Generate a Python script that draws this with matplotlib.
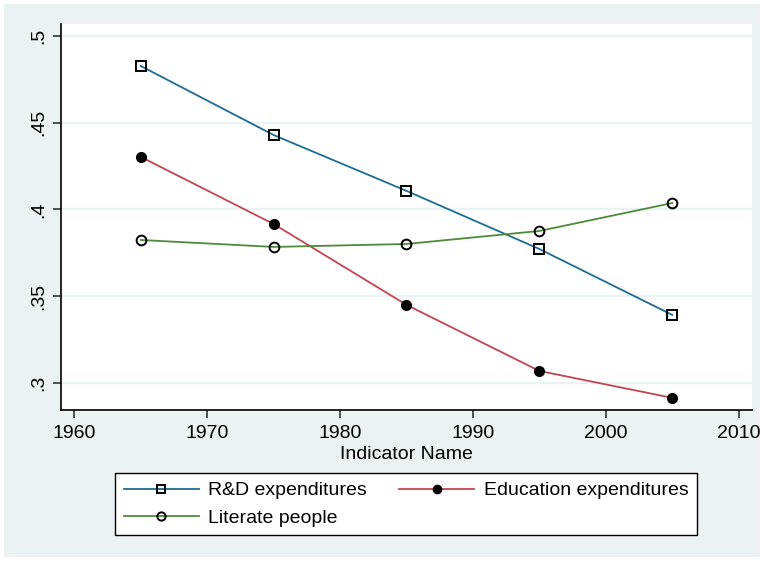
import matplotlib
matplotlib.use("Agg")
import matplotlib.pyplot as plt
from matplotlib.patches import Rectangle
from matplotlib.ticker import FuncFormatter

plt.rcParams['font.family'] = ['Liberation Sans', 'DejaVu Sans']

years = [1965, 1975, 1985, 1995, 2005]
rd_exp = [0.4827, 0.4429, 0.4107, 0.3772, 0.3392]
edu_exp = [0.4303, 0.3916, 0.3450, 0.3069, 0.2914]
literate = [0.3824, 0.3784, 0.3801, 0.3876, 0.4037]

x_ticks = [1960, 1970, 1980, 1990, 2000, 2010]
y_ticks = [0.30, 0.35, 0.40, 0.45, 0.50]

bg = '#eaf2f3'
c_blue = '#1b6c94'
c_red = '#c2454f'
c_green = '#4e8a3a'
fs = 14

fig = plt.figure(figsize=(7.64, 5.61), dpi=100)
fig.patch.set_facecolor('white')
fig.add_artist(Rectangle((4 / 764, 4 / 561), 756 / 764, 553 / 561,
                         transform=fig.transFigure, facecolor=bg,
                         edgecolor='none', zorder=-10))

ax = fig.add_axes([61 / 764, 1 - 410 / 561, 691 / 764, 386 / 561])
ax.set_facecolor('white')
ax.set_xlim(1959.0, 2011.0)
ax.set_ylim(0.2844, 0.5069)

for y in y_ticks:
    ax.axhline(y, color=bg, lw=1.6, zorder=1)

ms = 7
ax.plot(years, rd_exp, color=c_blue, lw=1.3, marker='s', ms=ms,
        mfc='none', mec='black', mew=1.4, label='R&D expenditures', zorder=3)
ax.plot(years, edu_exp, color=c_red, lw=1.3, marker='o', ms=ms,
        mfc='black', mec='black', mew=1.0, label='Education expenditures', zorder=3)
ax.plot(years, literate, color=c_green, lw=1.3, marker='o', ms=ms,
        mfc='none', mec='black', mew=1.4, label='Literate people', zorder=3)

ax.set_xticks(x_ticks)
ax.set_yticks(y_ticks)
ax.yaxis.set_major_formatter(FuncFormatter(
    lambda v, p: ('%.2f' % v).rstrip('0').lstrip('0')))
for lbl in ax.get_yticklabels():
    lbl.set_rotation(90)
    lbl.set_va('center')
ax.tick_params(axis='both', labelsize=fs, length=6, width=1.2, color='#333333')
ax.tick_params(axis='y', pad=4)
ax.tick_params(axis='x', pad=5)

for s in ['top', 'right']:
    ax.spines[s].set_visible(False)
for s in ['left', 'bottom']:
    ax.spines[s].set_linewidth(1.2)
    ax.spines[s].set_color('black')

ax.set_xlabel('Indicator Name', fontsize=fs, labelpad=3)

# legend filled column by column: R&D / Literate in column 1, Education in column 2
handles, labels = ax.get_legend_handles_labels()
order = [0, 2, 1]
leg = fig.legend([handles[i] for i in order], [labels[i] for i in order], ncol=2,
                 loc='upper left', bbox_to_anchor=(115 / 764, 1 - 473 / 561),
                 fontsize=fs, frameon=True, fancybox=False, framealpha=1,
                 edgecolor='black', handlelength=3.85, handletextpad=0.5,
                 borderaxespad=0.0, borderpad=0.45, columnspacing=1.65,
                 labelspacing=0.5, markerscale=0.85)
leg.get_frame().set_linewidth(1.0)
leg.get_frame().set_facecolor('white')

fig.savefig('out.png', dpi=100, facecolor=fig.get_facecolor())
